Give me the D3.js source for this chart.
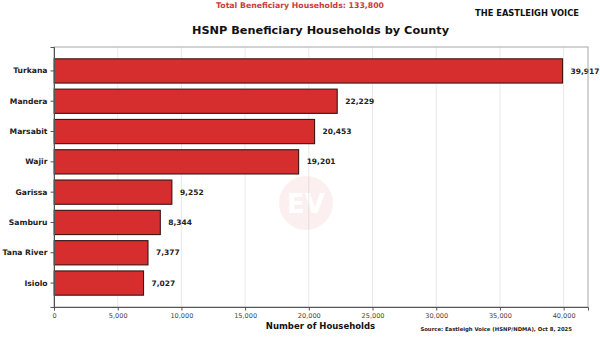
<!DOCTYPE html>
<html><head><meta charset="utf-8">
<script src="https://cdn.jsdelivr.net/npm/d3@7"></script>
<style>body{margin:0;background:#fff}svg{display:block}text{font-family:"DejaVu Sans",sans-serif}</style>
</head><body><svg id="c" width="600" height="338"></svg>
<script>
const counties = ["Turkana","Mandera","Marsabit","Wajir","Garissa","Samburu","Tana River","Isiolo"];
const households = [39917,22229,20453,19201,9252,8344,7377,7027];
const xTicks = [0,5000,10000,15000,20000,25000,30000,35000,40000];
const totalLabel = "Total Beneficiary Households: 133,800";
const title = "HSNP Beneficiary Households by County";
const brand = "THE EASTLEIGH VOICE";
const source = "Source: Eastleigh Voice (HSNP/NDMA), Oct 8, 2025";
const xLabel = "Number of Households";

const svg = d3.select("#c");
const m = {l:54, r:588, t:47, b:307};
const x = d3.scaleLinear().domain([0, d3.max(households)*1.05]).range([m.l, m.r]);
const y = d3.scaleBand().domain(counties).range([m.t, m.b]).paddingInner(0.2).paddingOuter(0.39);
const fmt = d3.format(",");

// scale a text's font size so its rendered width matches the reference width
function fit(sel, w) {
  const node = sel.node();
  const fs = parseFloat(sel.attr("font-size"));
  const len = node.getComputedTextLength();
  if (len > 0) sel.attr("font-size", (fs * w / len).toFixed(2));
  return sel;
}

// gridlines
svg.append("g").selectAll("line").data(xTicks).join("line")
  .attr("x1", d=>x(d)).attr("x2", d=>x(d)).attr("y1", m.t).attr("y2", m.b)
  .attr("stroke", "#e3e3e3").attr("stroke-width", 0.8);

// watermark
const wm = svg.append("g").attr("opacity", 0.09);
wm.append("circle").attr("cx", 306).attr("cy", 203).attr("r", 27).attr("fill", "#e05a5a");
wm.append("text").attr("x", 306).attr("y", 213).attr("text-anchor","middle")
  .attr("font-size", 26).attr("font-weight","bold").attr("fill","#fff").attr("font-family","Liberation Serif, serif").text("EV");

// bars
svg.append("g").selectAll("rect").data(counties).join("rect")
  .attr("x", x(0)).attr("y", d=>y(d)).attr("height", y.bandwidth())
  .attr("width", (d,i)=>x(households[i])-x(0))
  .attr("fill", "#d62e2e").attr("stroke", "#3b1414").attr("stroke-width", 1.1);

// value labels
svg.append("g").selectAll("text").data(counties).join("text")
  .attr("x", (d,i)=>x(households[i])+8).attr("y", d=>y(d)+y.bandwidth()/2)
  .attr("dy", "0.35em").attr("font-size", 7.5).attr("font-weight","bold").attr("fill","#222")
  .text((d,i)=>fmt(households[i]));

// frame
svg.append("rect").attr("x", m.l).attr("y", m.t).attr("width", m.r-m.l).attr("height", m.b-m.t)
  .attr("fill","none").attr("stroke","#a8a8a8").attr("stroke-width",1);

// axes
const xa = svg.append("g").attr("transform", `translate(0,${m.b})`)
  .call(d3.axisBottom(x).tickValues(xTicks).tickFormat(fmt).tickSize(3.5).tickPadding(3));
xa.select(".domain").attr("stroke","#555");
xa.selectAll("line").attr("stroke","#555");
xa.selectAll("text").attr("font-size", 7).attr("fill","#444").attr("font-family","DejaVu Sans, sans-serif");
{ const t = xa.selectAll(".tick text").filter(d=>d===40000); const fs = parseFloat(t.attr("font-size"));
  const k = 23 / t.node().getComputedTextLength(); xa.selectAll("text").attr("font-size", (fs*k).toFixed(2)); }

const ya = svg.append("g").attr("transform", `translate(${m.l},0)`)
  .call(d3.axisLeft(y).tickSize(3.5).tickPadding(3));
ya.select(".domain").attr("stroke","#555");
ya.selectAll("line").attr("stroke","#555");
ya.selectAll("text").attr("font-size", 7.6).attr("font-weight","bold").attr("fill","#222").attr("font-family","DejaVu Sans, sans-serif");
{ const t = ya.selectAll(".tick text").filter(d=>d==="Tana River"); const fs = parseFloat(t.attr("font-size"));
  const k = 45 / t.node().getComputedTextLength(); ya.selectAll("text").attr("font-size", (fs*k).toFixed(2)); }

// texts
fit(svg.append("text").attr("x", 300).attr("y", 8).attr("text-anchor","middle")
  .attr("font-size", 7).attr("font-weight","bold").attr("fill","#cc3b3b").text(totalLabel), 168);
fit(svg.append("text").attr("x", 320.5).attr("y", 33.5).attr("text-anchor","middle")
  .attr("font-size", 11.3).attr("font-weight","bold").attr("fill","#111").text(title), 257);
fit(svg.append("text").attr("x", 527).attr("y", 16).attr("text-anchor","middle")
  .attr("font-size", 8.5).attr("font-weight","bold").attr("fill","#111").text(brand), 104);
fit(svg.append("text").attr("x", 320.5).attr("y", 329).attr("text-anchor","middle")
  .attr("font-size", 8.4).attr("font-weight","bold").attr("fill","#111").text(xLabel), 109);
fit(svg.append("text").attr("x", 572).attr("y", 331).attr("text-anchor","end")
  .attr("font-size", 5.3).attr("font-weight","bold").attr("fill","#222").text(source), 152);
</script></body></html>
